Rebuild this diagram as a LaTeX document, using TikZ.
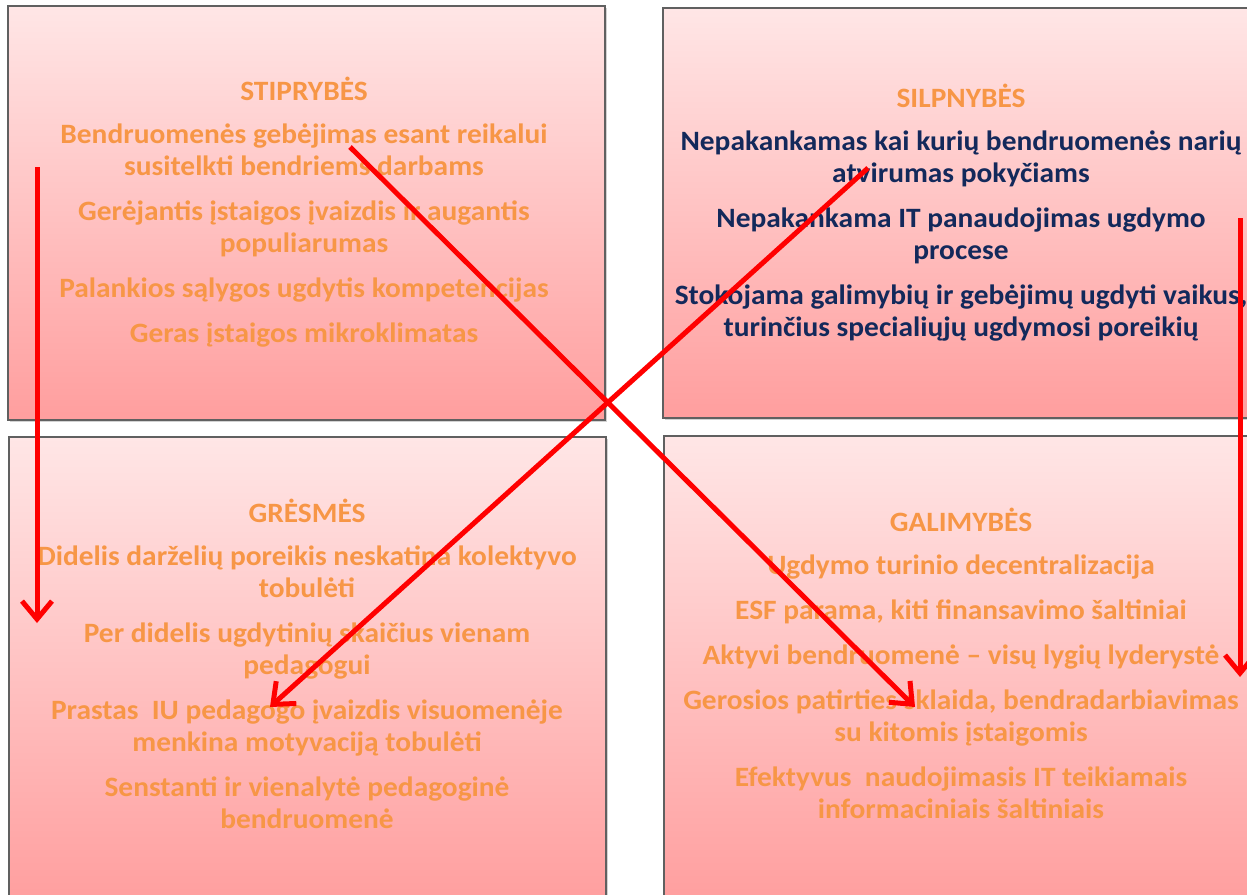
\documentclass[tikz,border=0pt]{standalone}
\usepackage{fontspec}
\setmainfont{Carlito}[FakeStretch=1.05]
\usepackage{tikz}
\usetikzlibrary{positioning,arrows.meta,shadows}

\definecolor{swotorange}{HTML}{F79646}
\definecolor{swotnavy}{HTML}{13295B}
\definecolor{boxtop}{HTML}{FFE6E6}
\definecolor{boxbottom}{HTML}{FF9E9E}

\begin{document}
\begin{tikzpicture}[x=1pt,y=-1pt,
                    box/.style={draw=gray!75!black,line width=1.2pt,top color=boxtop,bottom color=boxbottom,
                                drop shadow={shadow xshift=1.5pt,shadow yshift=-1.5pt,opacity=.35}},
                    item/.style={align=center,inner sep=0pt,anchor=north,text=swotorange,
                                 font=\fontsize{28}{32}\selectfont\bfseries,
                                 execute at begin node=\strut},
                    cross/.style={draw=red,line width=5pt,-{Straight Barb[length=18pt,width=30pt]}}]
%  \fill[white] covers the margins
  \useasboundingbox (0,0) rectangle (1247,894);
  \clip (0,0) rectangle (1247,894);
  \fill[white] (0,0) rectangle (1247,894);

  \path[box] (8,6)    rectangle (605,420);
  \path[box] (663,8)  rectangle (1262,418);
  \path[box] (9,437)  rectangle (606,905);
  \path[box] (664,436) rectangle (1262,905);

  % first baseline of each box minus the strut height (22.4pt)
  \node[item] (S) at (304,76.6) {STIPRYBĖS\\[11pt]
      Bendruomenės gebėjimas esant reikalui\\susitelkti bendriems darbams\\[13pt]
      Gerėjantis įstaigos įvaizdis ir augantis\\populiarumas\\[13pt]
      Palankios sąlygos ugdytis kompetencijas\\[13pt]
      Geras įstaigos mikroklimatas};

  \node[item] (W) at (961,83.6) {SILPNYBĖS\\[11pt]
      \color{swotnavy}Nepakankamas kai kurių bendruomenės narių\\\color{swotnavy}atvirumas pokyčiams\\[13pt]
      \color{swotnavy}Nepakankama IT panaudojimas ugdymo\\\color{swotnavy}procese\\[13pt]
      \color{swotnavy}Stokojama galimybių ir gebėjimų ugdyti vaikus,\\\color{swotnavy}turinčius specialiųjų ugdymosi poreikių};

  \node[item] (T) at (307,498.6) {GRĖSMĖS\\[11pt]
      Didelis darželių poreikis neskatina kolektyvo\\tobulėti\\[13pt]
      Per didelis ugdytinių skaičius vienam\\pedagogui\\[13pt]
      Prastas\ \ IU pedagogo įvaizdis visuomenėje\\menkina motyvaciją tobulėti\\[13pt]
      Senstanti ir vienalytė pedagoginė\\bendruomenė};

  \node[item] (O) at (961,507.6) {GALIMYBĖS\\[11pt]
      Ugdymo turinio decentralizacija\\[13pt]
      ESF parama, kiti finansavimo šaltiniai\\[13pt]
      Aktyvi bendruomenė – visų lygių lyderystė\\[13pt]
      Gerosios patirties sklaida, bendradarbiavimas\\su kitomis įstaigomis\\[13pt]
      Efektyvus\ \ naudojimasis IT teikiamais\\informaciniais šaltiniais};

  \coordinate (Ltop) at (37,167);
  \coordinate (Lend) at (37,623);
  \coordinate (Rtop) at (1240,218);
  \coordinate (Rend) at (1240,677);
  \coordinate (Dtop) at (350,147);
  \coordinate (Dend) at (915,707);
  \coordinate (Atop) at (868,168);
  \coordinate (Aend) at (270,707);

  \path (Ltop) edge[cross] (Lend)
        (Rtop) edge[cross] (Rend)
        (Dtop) edge[cross] (Dend)
        (Atop) edge[cross] (Aend);
\end{tikzpicture}
\end{document}
